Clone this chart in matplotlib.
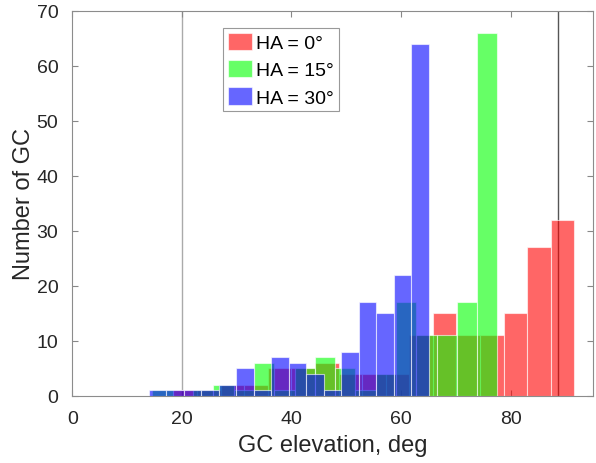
import numpy as np
import matplotlib.pyplot as plt

plt.rcParams['font.family'] = ['Liberation Sans', 'DejaVu Sans']

labels = ['HA = 0°', 'HA = 15°', 'HA = 30°']
colors = ['#ff0000', '#00ff00', '#0000ff']

# bin limits (deg) and counts per bin
red_range = (18.46, 91.65)
red_counts = [1, 1, 2, 2, 5, 5, 6, 4, 4, 4, 11, 15, 11, 11, 15, 27, 32]
green_range = (14.64, 77.62)
green_counts = [1, 0, 1, 2, 1, 6, 1, 5, 7, 5, 1, 4, 17, 11, 11, 17, 66]
blue_range = (13.95, 65.08)
blue_counts = [1, 1, 1, 1, 2, 5, 1, 7, 6, 4, 1, 8, 17, 15, 22, 64]

limit_lines = [20, 88.7]
line_colors = ['#aaaaaa', '#555555']

fig = plt.figure(figsize=(5.96, 4.64), dpi=100)
ax = fig.add_axes([72.3/596, 67.3/464, 520.4/596, 385/464])

for x, c in zip(limit_lines, line_colors):
    ax.axvline(x, color=c, lw=1, zorder=1)

series = [(red_range, red_counts), (green_range, green_counts), (blue_range, blue_counts)]
for i, ((lo, hi), counts) in enumerate(series):
    edges = np.linspace(lo, hi, len(counts) + 1)
    ax.bar(edges[:-1], counts, width=np.diff(edges), align='edge',
           facecolor=colors[i], alpha=0.6, edgecolor='white', linewidth=0.8,
           label=labels[i], zorder=2 + i)

ax.set_xlim(0, 95)
ax.set_ylim(0, 70)
ax.set_xticks(np.arange(0, 81, 20))
ax.set_yticks(np.arange(0, 71, 10))
ax.tick_params(direction='in', length=4, width=0.8, color='#888888',
               labelcolor='#262626', labelsize=14, top=True, right=True, pad=10)
for s in ax.spines.values():
    s.set_color('#8c8c8c')
    s.set_linewidth(0.8)

ax.set_xlabel('GC elevation, deg', fontsize=17, color='#262626', labelpad=5)
ax.set_ylabel('Number of GC', fontsize=17, color='#262626', labelpad=1)

leg = ax.legend(loc='upper left', bbox_to_anchor=(0.29, 0.955), borderaxespad=0,
                fontsize=14, handlelength=1.25, handleheight=1.0, handletextpad=0.2,
                labelspacing=0.4, borderpad=0.25, fancybox=False, framealpha=1,
                edgecolor='#999999')
leg.get_frame().set_linewidth(0.8)

fig.savefig('out.png', dpi=100)
